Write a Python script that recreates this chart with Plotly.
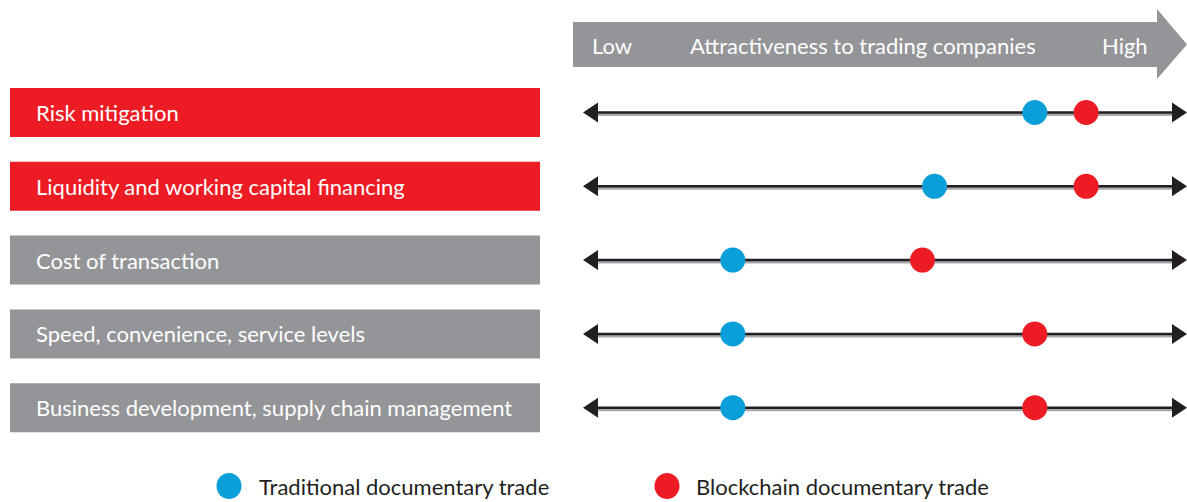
import plotly.graph_objects as go

W, H = 1187, 502

categories = [
    "Risk mitigation",
    "Liquidity and working capital financing",
    "Cost of transaction",
    "Speed, convenience, service levels",
    "Business development, supply chain management",
]
category_colors = ["#ED1C24", "#ED1C24", "#939598", "#939598", "#939598"]
traditional = [7.48, 5.82, 2.48, 2.48, 2.48]
blockchain = [8.33, 8.33, 5.62, 7.48, 7.48]
series_names = ["Traditional documentary trade", "Blockchain documentary trade"]
series_colors = ["#0A9FD8", "#ED1C24"]
header_labels = ["Low", "Attractiveness to trading companies", "High"]

FONT = "Lato"
FS = 22
TXT = "#231F20"
GRAY = "#939598"

ROW0, ROWSTEP = 112.5, 73.8
y_top = -ROW0 / ROWSTEP
y_bot = (H - ROW0) / ROWSTEP
XL, XR = 583, 1187
x_dom = [XL / W, XR / W]


def pxx(px):
    return px / W


def pxy(py):
    return 1 - py / H


fig = go.Figure()
shapes = []
annotations = []

# header arrow
body_t, body_b, head_t, head_b = 22, 67, 9, 79
x0, xh, xt = 573, 1157, 1187
path = (f"M {pxx(x0)},{pxy(body_t)} L {pxx(xh)},{pxy(body_t)} L {pxx(xh)},{pxy(head_t)} "
        f"L {pxx(xt)},{pxy((body_t+body_b)/2)} L {pxx(xh)},{pxy(head_b)} L {pxx(xh)},{pxy(body_b)} "
        f"L {pxx(x0)},{pxy(body_b)} Z")
shapes.append(dict(type="path", xref="paper", yref="paper", path=path,
                   fillcolor=GRAY, line=dict(width=0), layer="below"))
for lbl, px, anchor in zip(header_labels, [590, 863, 1150], ["left", "center", "right"]):
    annotations.append(dict(text=lbl, xref="paper", yref="paper", x=pxx(px), y=pxy(45),
                            xanchor=anchor, yanchor="middle", showarrow=False,
                            font=dict(family=FONT, size=FS, color="white")))

for i, (cat, col) in enumerate(zip(categories, category_colors)):
    shapes.append(dict(type="rect", xref="paper", yref="y", x0=pxx(10), x1=pxx(540),
                       y0=i - 24.5 / ROWSTEP, y1=i + 24.5 / ROWSTEP,
                       fillcolor=col, line=dict(width=0), layer="below"))
    annotations.append(dict(text=cat, xref="paper", yref="y", x=pxx(34), y=i,
                            xanchor="left", yanchor="middle", showarrow=False,
                            font=dict(family=FONT, size=FS, color="white")))
    shapes.append(dict(type="line", xref="paper", yref="y", x0=pxx(592), x1=pxx(1178),
                       y0=i + 1.5 / ROWSTEP, y1=i + 1.5 / ROWSTEP,
                       line=dict(color="#A7A9AC", width=4), layer="below"))
    shapes.append(dict(type="line", xref="paper", yref="y", x0=pxx(592), x1=pxx(1178),
                       y0=i, y1=i, line=dict(color=TXT, width=2.5), layer="below"))
    hh = 10 / ROWSTEP
    lp = f"M {pxx(583)},{i} L {pxx(598)},{i-hh} L {pxx(598)},{i+hh} Z"
    rp = f"M {pxx(1187)},{i} L {pxx(1172)},{i-hh} L {pxx(1172)},{i+hh} Z"
    for p in (lp, rp):
        shapes.append(dict(type="path", xref="paper", yref="y", path=p,
                           fillcolor=TXT, line=dict(width=0), layer="below"))

ys = list(range(len(categories)))
for name, vals, col in zip(series_names, [traditional, blockchain], series_colors):
    fig.add_trace(go.Scatter(x=vals, y=ys, mode="markers", name=name,
                             marker=dict(size=25, color=col, line=dict(width=0)),
                             showlegend=False, cliponaxis=False, hoverinfo="skip"))

for name, col, cx, tx in zip(series_names, series_colors, [229, 667], [257, 694]):
    r = 13
    shapes.append(dict(type="circle", xref="paper", yref="paper",
                       x0=pxx(cx - 12.5), x1=pxx(cx + 12.5), y0=pxy(486 + r), y1=pxy(486 - r),
                       fillcolor=col, line=dict(width=0)))
    annotations.append(dict(text=name, xref="paper", yref="paper", x=pxx(tx), y=pxy(486),
                            xanchor="left", yanchor="middle", showarrow=False,
                            font=dict(family=FONT, size=FS, color=TXT)))

fig.update_layout(
    width=W, height=H, margin=dict(l=0, r=0, t=0, b=0),
    paper_bgcolor="white", plot_bgcolor="white",
    xaxis=dict(domain=x_dom, range=[0, 10], visible=False, fixedrange=True),
    yaxis=dict(range=[y_bot, y_top], visible=False, fixedrange=True),
    shapes=shapes, annotations=annotations, showlegend=False,
)

fig.write_html("out.html", config={"displayModeBar": False},
               post_script="document.body.style.margin='0px';document.body.style.overflow='hidden';")
